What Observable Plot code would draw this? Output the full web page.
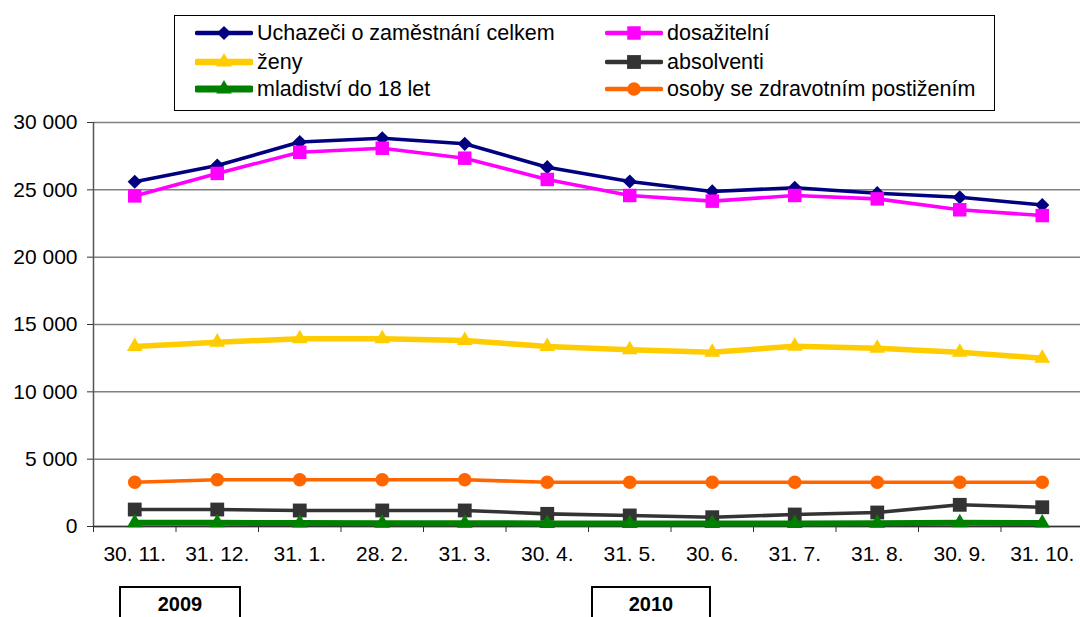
<!DOCTYPE html>
<html><head><meta charset="utf-8">
<script src="https://cdn.jsdelivr.net/npm/d3@7"></script>
<script src="https://cdn.jsdelivr.net/npm/@observablehq/plot@0.6"></script>
<style>
body{margin:0;background:#fff;font-family:"Liberation Sans",Arial,sans-serif;color:#000;}
#wrap{position:relative;width:1080px;height:617px;overflow:hidden;background:#fff;}
#legend{position:absolute;left:174px;top:15px;width:821px;height:96px;border:1px solid #000;box-sizing:border-box;z-index:2;background:#fff;}
.item{position:absolute;display:flex;align-items:center;font-size:21.5px;height:28px;white-space:nowrap;}
.item svg{margin-right:4px;}
#chart{position:absolute;left:0;top:100px;z-index:1;}
.year{position:absolute;top:586px;height:40px;border:2px solid #000;box-sizing:border-box;font-weight:bold;font-size:20px;text-align:center;padding-top:5px;}
</style>
</head><body>
<div id="wrap">
  <div id="legend"></div>
  <div id="chart"></div>
</div>
<script>
const dates = ["30. 11.","31. 12.","31. 1.","28. 2.","31. 3.","30. 4.","31. 5.","30. 6.","31. 7.","31. 8.","30. 9.","31. 10."];
const uchazeci    = [25600,26800,28550,28830,28420,26680,25620,24880,25150,24750,24450,23870];
const dosazitelni = [24550,26220,27790,28090,27350,25770,24580,24160,24580,24330,23520,23090];
const zeny        = [13370,13690,13940,13940,13810,13370,13120,12940,13390,13240,12940,12500];
const absolventi  = [1260,1260,1190,1190,1190,940,820,690,890,1040,1610,1430];
const mladistvi   = [280,270,260,250,240,230,230,220,230,250,270,260];
const postizeni   = [3290,3470,3470,3470,3470,3290,3290,3290,3290,3290,3290,3290];
const yTicks = [0,5000,10000,15000,20000,25000,30000];
const yearLabels = ["2009","2010"];

const series = [
  {name:"Uchazeči o zaměstnání celkem", values:uchazeci, color:"#000080", sw:3.6, symbol:"diamond2", r:6.4, col:0, row:0},
  {name:"dosažitelní", values:dosazitelni, color:"#FF00FF", sw:3.6, symbol:"square", r:7.6, col:1, row:0},
  {name:"ženy", values:zeny, color:"#FFCC00", sw:5.5, symbol:"triangle", r:5.8, col:0, row:1},
  {name:"absolventi", values:absolventi, color:"#333333", sw:3.6, symbol:"square", r:7.8, col:1, row:1},
  {name:"mladiství do 18 let", values:mladistvi, color:"#008000", sw:6, symbol:"triangle", r:5.8, col:0, row:2},
  {name:"osoby se zdravotním postižením", values:postizeni, color:"#FF6600", sw:3.6, symbol:"circle", r:6.8, col:1, row:2}
];

const d3sym = {diamond2: d3.symbolDiamond2, square: d3.symbolSquare, triangle: d3.symbolTriangle, circle: d3.symbolCircle};

// legend
const legend = d3.select("#legend");
const rowTops = [3, 32, 59];
const colLefts = [20, 430];
series.forEach(s => {
  const it = legend.append("div").attr("class","item")
    .style("left", colLefts[s.col] + "px").style("top", rowTops[s.row] + "px");
  const svg = it.append("svg").attr("width",58).attr("height",24);
  svg.append("line").attr("x1",2).attr("x2",56).attr("y1",12).attr("y2",12)
    .attr("stroke",s.color).attr("stroke-width", s.sw + 1).attr("stroke-linecap","round");
  svg.append("path").attr("transform","translate(29,12)")
    .attr("d", d3.symbol(d3sym[s.symbol], Math.PI * s.r * s.r)()).attr("fill", s.color);
  it.append("span").text(s.name);
});

const fmt = d => d3.format(",")(d).replace(/,/g, " ");
const idx = d3.range(dates.length);
const bounds = d3.range(dates.length + 1).map(i => i - 0.5);

const marks = [
  Plot.gridY(yTicks, {stroke:"#808080", strokeOpacity:1, strokeWidth:1.5}),
  Plot.axisY(yTicks, {tickFormat: fmt, tickSize: 6, tickPadding: 10, fontSize: 21, stroke:"#333", label: null}),
  Plot.axisX(bounds, {tickSize: 6, tickFormat: () => "", stroke:"#333", label: null}),
  Plot.axisX(idx, {tickSize: 0, tickPadding: 20, tickFormat: i => dates[i], fontSize: 21, label: null}),
  Plot.ruleX([-0.5], {stroke:"#555", strokeWidth:1.5}),
  Plot.ruleY([0], {stroke:"#333", strokeWidth:1.5})
];
series.forEach(s => {
  const data = s.values.map((v, i) => ({i, v}));
  marks.push(Plot.line(data, {x:"i", y:"v", stroke:s.color, strokeWidth:s.sw}));
  marks.push(Plot.dot(data, {x:"i", y:"v", fill:s.color, symbol:s.symbol, r:s.r}));
});

const chart = Plot.plot({
  width: 1080,
  height: 475,
  marginLeft: 93,
  marginRight: -3,
  marginTop: 22,
  marginBottom: 49,
  style: {fontFamily: "'Liberation Sans', Arial, sans-serif", color: "#000", background: "transparent", overflow: "hidden"},
  x: {type: "linear", domain: [-0.5, dates.length - 0.5], axis: null},
  y: {domain: [0, 30000], axis: null},
  marks
});
document.getElementById("chart").appendChild(chart);

// year boxes
const wrap = d3.select("#wrap");
const yearBoxes = [{label: yearLabels[0], left: 119, width: 122}, {label: yearLabels[1], left: 591, width: 120}];
yearBoxes.forEach(b => {
  wrap.append("div").attr("class","year").style("left", b.left + "px").style("width", b.width + "px").text(b.label);
});
</script>
</body></html>
